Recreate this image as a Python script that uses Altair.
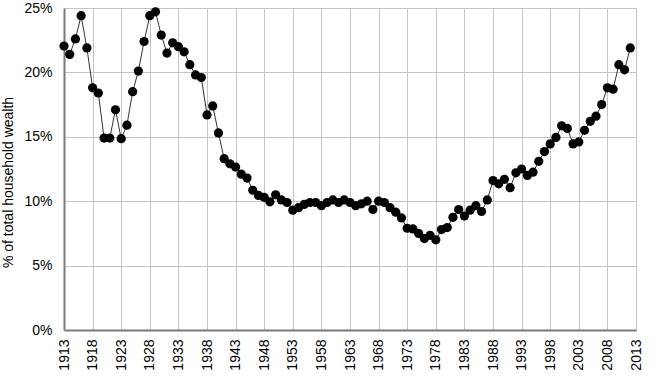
import altair as alt
import pandas as pd

years = list(range(1913, 2013))
share = [
    22.05, 21.4, 22.6, 24.4, 21.9, 18.8, 18.4, 14.9, 14.9, 17.1,
    14.85, 15.9, 18.5, 20.1, 22.4, 24.4, 24.7, 22.9, 21.5, 22.3,
    22.0, 21.6, 20.6, 19.8, 19.6, 16.7, 17.4, 15.3, 13.3, 12.9,
    12.65, 12.1, 11.8, 10.85, 10.45, 10.3, 9.95, 10.5, 10.1, 9.9,
    9.3, 9.5, 9.75, 9.9, 9.9, 9.65, 9.9, 10.1, 9.9, 10.1,
    9.9, 9.65, 9.8, 10.0, 9.35, 10.0, 9.9, 9.5, 9.15, 8.7,
    7.9, 7.85, 7.5, 7.1, 7.35, 7.0, 7.8, 7.95, 8.75, 9.35,
    8.85, 9.3, 9.65, 9.2, 10.1, 11.6, 11.35, 11.7, 11.05, 12.2,
    12.5, 12.0, 12.25, 13.1, 13.85, 14.45, 14.95, 15.85, 15.65, 14.45,
    14.6, 15.5, 16.2, 16.6, 17.5, 18.8, 18.7, 20.6, 20.2, 21.9,
]
x_ticks = list(range(1913, 2014, 5))
y_ticks = [0, 0.05, 0.10, 0.15, 0.20, 0.25]

df = pd.DataFrame({"year": years, "share": [v / 100 for v in share]})

font = "Liberation Sans"

x_enc = alt.X(
    "year:Q",
    scale=alt.Scale(domain=[1913, 2013], nice=False, zero=False),
    axis=alt.Axis(
        values=x_ticks, format="d", labelAngle=270, title=None,
        ticks=False, labelPadding=9, labelFontSize=14, labelColor="#000000",
        labelFont=font, gridColor="#c4c4c4", gridWidth=1,
        domainColor="#7a7a7a", domainWidth=2, labelOverlap=False,
    ),
)
y_enc = alt.Y(
    "share:Q",
    scale=alt.Scale(domain=[0, 0.25], nice=False),
    axis=alt.Axis(
        values=y_ticks, format=".0%", title="% of total household wealth",
        ticks=False, labelPadding=12, labelFontSize=14, labelColor="#000000",
        labelFont=font, titleFont=font, titleFontSize=14,
        titleFontWeight="normal", titleColor="#000000", titlePadding=8,
        titleY=174,
        gridColor="#c4c4c4", gridWidth=1, domainColor="#7a7a7a", domainWidth=2,
    ),
)

line = alt.Chart(df).mark_line(color="#333333", strokeWidth=1).encode(x=x_enc, y=y_enc)
pts = alt.Chart(df).mark_circle(color="#000000", size=85, opacity=1).encode(x=x_enc, y=y_enc)

chart = (
    alt.layer(line, pts)
    .properties(
        width=572, height=322,
        autosize=alt.AutoSizeParams(type="none"),
        padding={"left": 64, "top": 8, "right": 17, "bottom": 58},
        background="#ffffff",
    )
    .configure_view(stroke="#c4c4c4", strokeWidth=1)
)

chart.save("out.html", embed_options={"renderer": "svg", "actions": False})
